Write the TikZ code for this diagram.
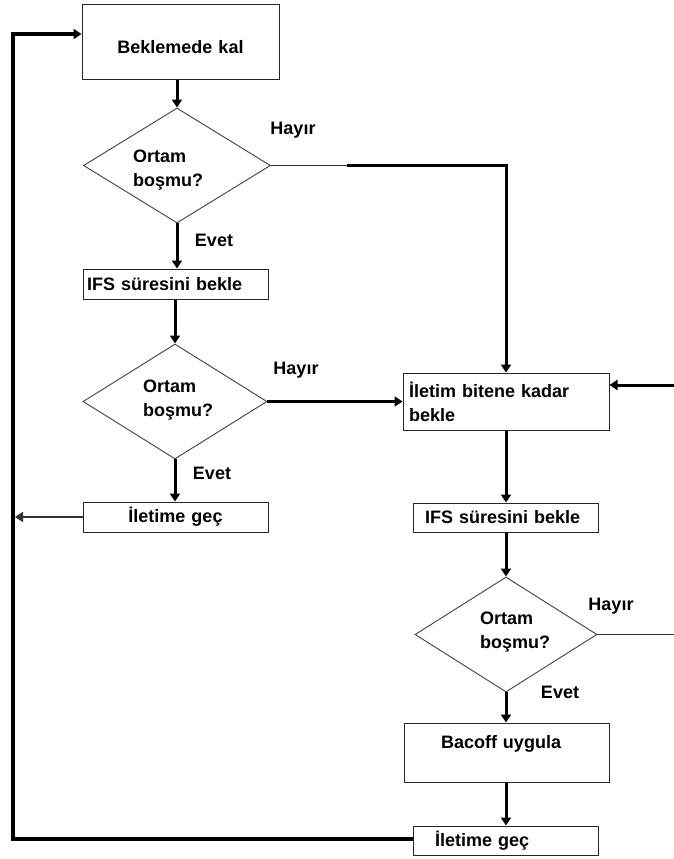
\documentclass[tikz,border=0pt]{standalone}
\usepackage{fontspec}
\setmainfont{Liberation Sans}
\usetikzlibrary{shapes.geometric,arrows.meta}
\begin{document}
\begin{tikzpicture}[x=1pt,y=-1pt,
  every node/.style={font=\fontsize{18}{24}\selectfont\bfseries},
  box/.style={draw=black!85, line width=1pt, rectangle, inner ysep=0pt, align=left},
  dia/.style={draw=black!75, line width=0.9pt, diamond, inner sep=0pt},
  conn/.style={line width=3pt, -{Triangle[length=8pt,width=10pt]}},
  loopline/.style={line width=4pt, line join=miter, -{Triangle[length=8pt,width=10pt]}},
  thinarrow/.style={draw=black!80, line width=1.6pt, -{Triangle[length=8pt,width=10pt]}},
  thinline/.style={draw=black!80, line width=1.2pt},
  lbl/.style={inner sep=0pt}]
\useasboundingbox (0,0) rectangle (674,859);
% boxes
\node[box, minimum height=75pt, inner xsep=0pt, text width=197pt, align=center, text height=23pt, text depth=0pt] (b1) at (180.5,42) {Beklemede kal};
\node[box, minimum height=30pt, inner xsep=4pt, text width=177pt] (i1) at (175.5,284) {IFS süresini bekle};
\node[box, minimum height=30pt, inner xsep=0pt, text width=185pt, align=center] (g1) at (175.5,517) {İletime geç};
\node[box, minimum height=57pt, inner xsep=6pt, text width=194pt] (w) at (506,401.5) {İletim bitene kadar\\bekle};
\node[box, minimum height=29pt, inner xsep=12pt, text width=161pt] (i2) at (505.5,517.5) {IFS süresini bekle};
\node[box, minimum height=59pt, inner xsep=37pt, text width=131pt, text height=13pt, text depth=22pt] (bo) at (506.5,752.5) {Bacoff uygula};
\node[box, minimum height=29pt, inner xsep=22pt, text width=141pt] (g2) at (505.5,840.5) {İletime geç};
% diamonds
\node[dia, minimum width=187pt, minimum height=115pt] (d1) at (177,165.5) {};
\node[dia, minimum width=184pt, minimum height=115pt] (d2) at (175,401.5) {};
\node[dia, minimum width=182pt, minimum height=115pt] (d3) at (506,634.5) {};
\node[anchor=west, align=left, inner sep=0pt] (d1t) at (133,170) {Ortam\\boşmu?};
\node[anchor=west, align=left, inner sep=0pt] (d2t) at (143,400) {Ortam\\boşmu?};
\node[anchor=west, align=left, inner sep=0pt] (d3t) at (480,632) {Ortam\\boşmu?};
% labels
\node[lbl] (h1l) at (293,130) {Hayır};
\node[lbl] (h2l) at (296,370) {Hayır};
\node[lbl] (h3l) at (611,606) {Hayır};
\node[lbl] (e1l) at (214,240) {Evet};
\node[lbl] (e2l) at (212,473) {Evet};
\node[lbl] (e3l) at (560,692) {Evet};
% coordinates
\coordinate (L1) at (13,839);
\coordinate (L2) at (13,34);
\coordinate (G1L) at (15,517);
\coordinate (H1) at (347,165.5);
\coordinate (R1) at (674,385);
\coordinate (R2) at (674,634.5);
% connectors
\draw[conn] (d1.north |- b1.south) -- (d1.north);
\draw[conn] (d1.south) -- (i1.north -| d1.south);
\draw[conn] (d2.north |- i1.south) -- (d2.north);
\draw[conn] (d2.south) -- (g1.north -| d2.south);
\draw[thinarrow] (g1.west) -- (G1L);
\draw[loopline] (g2.west |- L1) -- (L1) -- (L2) -- (L2 -| b1.west);
\draw[thinline] (d1.east) -- (H1);
\draw[conn] (H1) -| (w.north);
\draw[conn] (d2.east) -- (d2.east -| w.west);
\draw[conn] (R1) -- (R1 -| w.east);
\draw[conn] (w.south) -- (i2.north -| w.south);
\draw[conn] (d3.north |- i2.south) -- (d3.north);
\draw[conn] (d3.south) -- (bo.north -| d3.south);
\draw[conn] (bo.south -| d3.south) -- (g2.north -| d3.south);
\draw[thinline] (d3.east) -- (R2);
\end{tikzpicture}
\end{document}
